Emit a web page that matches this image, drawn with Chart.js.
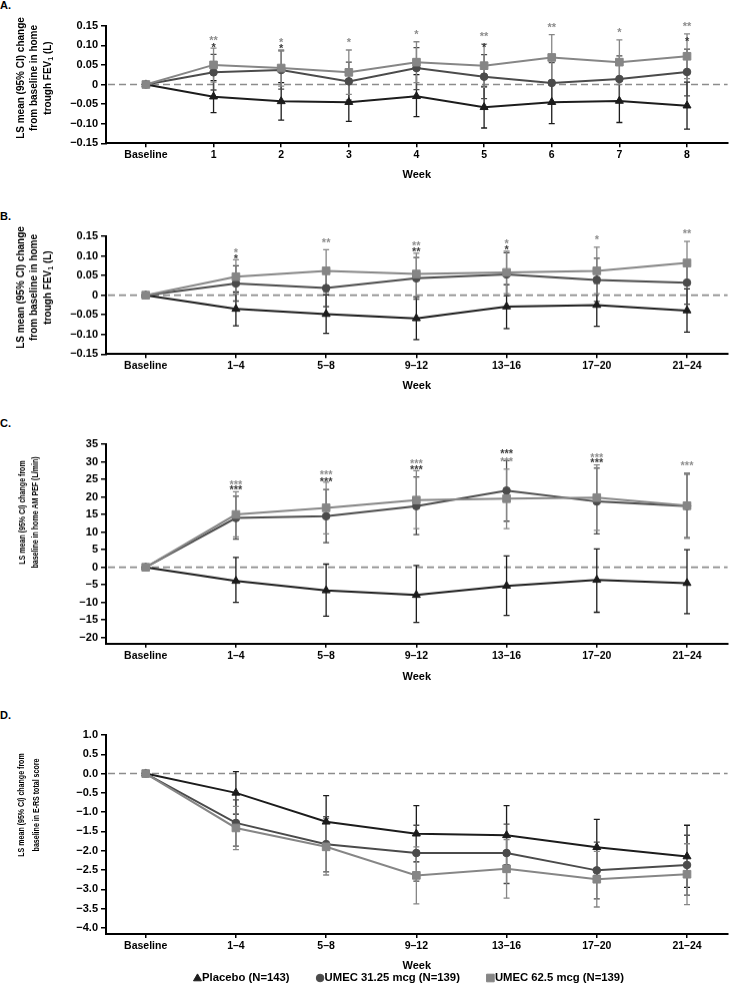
<!DOCTYPE html>
<html><head><meta charset="utf-8">
<script src="https://cdn.jsdelivr.net/npm/chart.js@4.4.1/dist/chart.umd.min.js"></script>
<style>
html,body{margin:0;padding:0;background:#fff;overflow:hidden;width:734px;height:991px;}
.wrap{position:absolute;left:0;width:734px;}
.lab{position:absolute;left:0;font:bold 11px "Liberation Sans",Arial,sans-serif;color:#000;line-height:13px;}
</style></head><body>
<div class="lab" style="top:-1px">A.</div>
<div class="lab" style="top:210px">B.</div>
<div class="lab" style="top:417px">C.</div>
<div class="lab" style="top:709px">D.</div>
<div class="wrap" style="top:0px;height:182px"><canvas id="cA"></canvas></div>
<div class="wrap" style="top:190px;height:201.6px"><canvas id="cB"></canvas></div>
<div class="wrap" style="top:400px;height:282.6px"><canvas id="cC"></canvas></div>
<div class="wrap" style="top:690px;height:301px"><canvas id="cD"></canvas></div>
<script>
// ---------- DATA ----------
const weeksA = ['Baseline','1','2','3','4','5','6','7','8'];
const weeksBCD = ['Baseline','1–4','5–8','9–12','13–16','17–20','21–24'];
const seriesNames = ['Placebo (N=143)','UMEC 31.25 mcg (N=139)','UMEC 62.5 mcg (N=139)'];
const yTicksFEV = [-0.15,-0.10,-0.05,0,0.05,0.10,0.15];
const yTicksPEF = [-20,-15,-10,-5,0,5,10,15,20,25,30,35];
const yTicksERS = [-4.0,-3.5,-3.0,-2.5,-2.0,-1.5,-1.0,-0.5,0.0,0.5,1.0];

// Panel A: trough FEV1 by week
const placeboA    = [0,-0.031,-0.043,-0.045,-0.030,-0.058,-0.045,-0.042,-0.054];
const placeboA_lo = [null,-0.072,-0.091,-0.094,-0.082,-0.111,-0.100,-0.097,-0.114];
const placeboA_hi = [null,0.010,0.005,0.004,0.025,-0.005,0.010,0.013,0.006];
const umec31A     = [0,0.031,0.037,0.008,0.042,0.020,0.004,0.014,0.032];
const umec31A_lo  = [null,-0.014,-0.012,-0.040,-0.013,-0.036,-0.048,-0.045,-0.029];
const umec31A_hi  = [null,0.077,0.086,0.057,0.094,0.076,0.056,0.073,0.090];
const umec62A     = [0,0.050,0.042,0.031,0.057,0.048,0.069,0.057,0.072];
const umec62A_lo  = [null,0.006,-0.004,-0.025,0.005,-0.007,0.011,0.000,0.015];
const umec62A_hi  = [null,0.093,0.088,0.088,0.109,0.103,0.127,0.114,0.129];
const starsA_31   = ['','*','*','','','*','','','*'];
const starsA_62   = ['','**','*','*','*','**','**','*','**'];

// Panel B: trough FEV1 by 4-week interval
const placeboB    = [0,-0.035,-0.048,-0.059,-0.029,-0.025,-0.039];
const placeboB_lo = [null,-0.078,-0.097,-0.113,-0.085,-0.079,-0.094];
const placeboB_hi = [null,0.008,0.001,-0.005,0.027,0.030,0.016];
const umec31B     = [0,0.030,0.018,0.043,0.053,0.039,0.032];
const umec31B_lo  = [null,-0.015,-0.029,-0.010,-0.002,-0.016,-0.023];
const umec31B_hi  = [null,0.075,0.065,0.096,0.108,0.094,0.087];
const umec62B     = [0,0.047,0.062,0.054,0.058,0.062,0.082];
const umec62B_lo  = [null,0.003,0.008,-0.003,0.004,0.004,0.028];
const umec62B_hi  = [null,0.090,0.116,0.107,0.112,0.122,0.137];
const starsB_31   = ['','*','','**','*','',''];
const starsB_62   = ['','*','**','**','*','*','**'];

// Panel C: AM PEF
const placeboC    = [0,-3.9,-6.6,-7.9,-5.3,-3.6,-4.5];
const placeboC_lo = [null,-10.0,-13.9,-15.7,-13.7,-12.8,-13.2];
const placeboC_hi = [null,2.8,0.9,0.5,3.2,5.2,5.0];
const umec31C     = [0,14.0,14.5,17.4,21.8,18.7,17.4];
const umec31C_lo  = [null,8.0,7.0,9.3,13.1,9.5,8.4];
const umec31C_hi  = [null,20.2,22.1,25.7,30.3,28.2,26.5];
const umec62C     = [0,15.0,16.9,19.1,19.5,19.8,17.5];
const umec62C_lo  = [null,8.6,9.5,11.0,11.0,10.5,8.2];
const umec62C_hi  = [null,21.5,24.2,27.5,27.9,29.1,26.8];
const starsC_31   = ['','***','***','***','***','***',''];
const starsC_62   = ['','***','***','***','***','***','***'];

// Panel D: E-RS total score
const placeboD    = [0,-0.50,-1.25,-1.56,-1.60,-1.91,-2.15];
const placeboD_lo = [null,-1.05,-1.93,-2.29,-2.37,-2.64,-2.95];
const placeboD_hi = [null,0.05,-0.57,-0.83,-0.83,-1.19,-1.34];
const umec31D     = [0,-1.28,-1.83,-2.06,-2.06,-2.51,-2.37];
const umec31D_lo  = [null,-1.88,-2.55,-2.79,-2.85,-3.25,-3.15];
const umec31D_hi  = [null,-0.68,-1.12,-1.34,-1.31,-1.78,-1.60];
const umec62D     = [0,-1.41,-1.90,-2.64,-2.47,-2.74,-2.61];
const umec62D_lo  = [null,-1.97,-2.63,-3.38,-3.23,-3.46,-3.40];
const umec62D_hi  = [null,-0.85,-1.17,-1.90,-1.71,-2.02,-1.82];

const titleA = ['LS mean (95% CI) change','from baseline in home','trough FEV{1} (L)'];
const titleC = ['LS mean (95% CI) change from','baseline in home AM PEF (L/min)'];
const titleD = ['LS mean (95% CI) change from','baseline in E-RS total score'];

// ---------- STYLE ----------
const FONT = '"Liberation Sans", Arial, Helvetica, sans-serif';
const COL = ['#1c1c1c','#4b4b4b','#868686'];
const STARCOL = [null,'#3a3a3a','#8c8c8c'];
const PSTYLE = ['triangle','circle','rect'];
const PRAD = [4.6,3.8,5.4];

function fmtFEV(v){ const r=Math.round(v*100)/100; if(r===0) return '0'; return (r<0?'\u2212':'')+Math.abs(r).toFixed(2); }
function fmtPEF(v){ const r=Math.round(v); return (r<0?'\u2212':'')+Math.abs(r); }
function fmtERS(v){ const r=Math.round(v*10)/10; return (r<0?'\u2212':'')+Math.abs(r).toFixed(1); }

function drawMarker(ctx, style, x, y, r, color){
  ctx.save(); ctx.fillStyle=color; ctx.strokeStyle=color; ctx.lineWidth=1;
  ctx.beginPath();
  if(style==='triangle'){
    ctx.moveTo(x, y-r); ctx.lineTo(x-r*0.866, y+r*0.5); ctx.lineTo(x+r*0.866, y+r*0.5); ctx.closePath();
  } else if(style==='circle'){
    ctx.arc(x,y,r,0,Math.PI*2);
  } else {
    const s=r*Math.SQRT1_2; ctx.rect(x-s,y-s,2*s,2*s);
  }
  ctx.fill(); ctx.stroke(); ctx.restore();
}

function drawRotLine(ctx, text, x, cy, size, hscale){
  const segs=[]; const re=/\{([^}]*)\}/g; let last=0, m;
  while((m=re.exec(text))){ if(m.index>last) segs.push({t:text.slice(last,m.index)}); segs.push({t:m[1],sub:true}); last=re.lastIndex; }
  if(last<text.length) segs.push({t:text.slice(last)});
  const big=`bold ${size}px ${FONT}`, small=`bold ${Math.round(size*0.7)}px ${FONT}`;
  ctx.save(); ctx.translate(x,cy); ctx.rotate(-Math.PI/2); ctx.scale(hscale||1,1);
  let total=0; segs.forEach(s=>{ctx.font=s.sub?small:big; total+=ctx.measureText(s.t).width;});
  let cx=-total/2; ctx.textBaseline='middle'; ctx.textAlign='left'; ctx.fillStyle='#000';
  segs.forEach(s=>{ctx.font=s.sub?small:big; ctx.fillText(s.t,cx,s.sub?size*0.32:0); cx+=ctx.measureText(s.t).width;});
  ctx.restore();
}

function makeDecor(cfg){
  return {
    id:'decor',
    beforeDatasetsDraw(chart){
      const {ctx, chartArea, scales:{x,y}} = chart;
      ctx.save();
      ctx.strokeStyle='#8c8c8c'; ctx.lineWidth=1.6; ctx.setLineDash([7,4]);
      const y0=y.getPixelForValue(0);
      ctx.beginPath(); ctx.moveTo(chartArea.left+2,y0); ctx.lineTo(chartArea.right,y0); ctx.stroke();
      ctx.restore();
      cfg.series.forEach((s,si)=>{
        ctx.save(); ctx.strokeStyle=COL[si]; ctx.lineWidth=1.3;
        s.lo.forEach((lo,j)=>{
          if(lo==null) return;
          const px=x.getPixelForValue(j), pl=y.getPixelForValue(lo), ph=y.getPixelForValue(s.hi[j]);
          ctx.beginPath();
          ctx.moveTo(px,pl); ctx.lineTo(px,ph);
          ctx.moveTo(px-3,pl); ctx.lineTo(px+3,pl);
          ctx.moveTo(px-3,ph); ctx.lineTo(px+3,ph);
          ctx.stroke();
        });
        ctx.restore();
      });
    },
    afterDatasetsDraw(chart){
      const {ctx, scales:{x,y}} = chart;
      const fs=11;
      cfg.cats.forEach((c,j)=>{
        const rows=[];
        cfg.series.forEach((s,si)=>{
          if(s.stars && s.stars[j]) rows.push({y:y.getPixelForValue(s.hi[j])-10, t:s.stars[j], col:STARCOL[si]});
        });
        rows.sort((a,b)=>a.y-b.y);
        for(let k=1;k<rows.length;k++){ if(rows[k].y-rows[k-1].y<5.5) rows[k].y=rows[k-1].y+5.5; }
        const px=x.getPixelForValue(j);
        rows.forEach(r=>{
          ctx.save(); ctx.font=`bold ${fs}px ${FONT}`; ctx.fillStyle=r.col; ctx.textAlign='center'; ctx.textBaseline='alphabetic';
          ctx.fillText(r.t, px, r.y+fs*0.57); ctx.restore();
        });
      });
    },
    afterDraw(chart){
      const ctx=chart.ctx;
      cfg.title.forEach((t,i)=>drawRotLine(ctx,t,cfg.titleX[i],cfg.titleY-cfg.top,cfg.titleSize,cfg.titleScale));
      if(cfg.legend){
        const ly=cfg.legendY-cfg.top; let lx=cfg.legendX;
        ctx.save(); ctx.font=`bold 11.3px ${FONT}`; ctx.textBaseline='middle'; ctx.fillStyle='#000';
        seriesNames.forEach((n,i)=>{
          drawMarker(ctx,PSTYLE[i],lx+3.5,ly+(i===0?0.5:0),PRAD[i],COL[i]);
          ctx.fillStyle='#000'; ctx.fillText(n,lx+8,ly);
          lx += 8 + ctx.measureText(n).width + 27;
        });
        ctx.restore();
      }
    }
  };
}

function makePanel(id,cfg){
  const datasets=cfg.series.map((s,si)=>({
    label:seriesNames[si],
    data:s.data.map((v,i)=>({x:i,y:v})),
    borderColor:COL[si], backgroundColor:COL[si],
    pointBackgroundColor:COL[si], pointBorderColor:COL[si],
    pointStyle:PSTYLE[si], pointRadius:PRAD[si], pointBorderWidth:1,
    borderWidth:2, tension:0, order:2-si
  }));
  const tickFont={family:FONT,size:11,weight:'bold'};
  return new Chart(document.getElementById(id),{
    type:'line',
    data:{datasets},
    options:{
      responsive:true, maintainAspectRatio:false, animation:false, devicePixelRatio:1,
      layout:{padding:{top:cfg.padTop,bottom:cfg.padBottom||0,left:0,right:0}},
      plugins:{legend:{display:false},tooltip:{enabled:false}},
      events:[],
      scales:{
        x:{type:'linear',min:cfg.xmin,max:cfg.xmax,
          afterBuildTicks:sc=>{sc.ticks=cfg.cats.map((_,i)=>({value:i}));},
          afterFit:sc=>{sc.height=cfg.xH;},
          ticks:{callback:v=>cfg.cats[v],font:{family:FONT,size:10.5,weight:'bold'},color:'#000',padding:2,maxRotation:0,autoSkip:false},
          grid:{display:true,drawOnChartArea:false,drawTicks:true,tickLength:4,color:'#000',lineWidth:1.5},
          border:{display:true,color:'#000',width:2},
          title:{display:true,text:'Week',font:{family:FONT,size:11,weight:'bold'},color:'#000',padding:{top:0,bottom:0}}
        },
        y:{min:cfg.ymin,max:cfg.ymax,
          afterBuildTicks:sc=>{sc.ticks=cfg.yticks.map(v=>({value:v}));},
          afterFit:sc=>{sc.width=106;},
          ticks:{callback:cfg.fmt,font:tickFont,color:'#000',padding:3,autoSkip:false},
          grid:{display:true,drawOnChartArea:false,drawTicks:true,tickLength:5,color:'#000',lineWidth:1.5},
          border:{display:true,color:'#000',width:2}
        }
      }
    },
    plugins:[makeDecor(cfg)]
  });
}

makePanel('cA',{top:0,padTop:25.7,xH:38.7,ymin:-0.15,ymax:0.15,xmin:-0.59,xmax:8.6,cats:weeksA,yticks:yTicksFEV,fmt:fmtFEV,
  title:titleA,titleX:[21.5,34.5,48],titleY:78,titleSize:10,titleScale:1,
  series:[{data:placeboA,lo:placeboA_lo,hi:placeboA_hi},{data:umec31A,lo:umec31A_lo,hi:umec31A_hi,stars:starsA_31},{data:umec62A,lo:umec62A_lo,hi:umec62A_hi,stars:starsA_62}]});
makePanel('cB',{top:190,padTop:46,xH:38.3,ymin:-0.15,ymax:0.15,xmin:-0.44,xmax:6.45,cats:weeksBCD,yticks:yTicksFEV,fmt:fmtFEV,
  title:titleA,titleX:[21.5,34.5,48],titleY:287,titleSize:10,titleScale:1,
  series:[{data:placeboB,lo:placeboB_lo,hi:placeboB_hi},{data:umec31B,lo:umec31B_lo,hi:umec31B_hi,stars:starsB_31},{data:umec62B,lo:umec62B_lo,hi:umec62B_hi,stars:starsB_62}]});
makePanel('cC',{top:400,padTop:44,xH:39.9,ymin:-21.7,ymax:35,xmin:-0.44,xmax:6.45,cats:weeksBCD,yticks:yTicksPEF,fmt:fmtPEF,
  title:titleC,titleX:[22.5,36],titleY:512,titleSize:8.6,titleScale:0.82,
  series:[{data:placeboC,lo:placeboC_lo,hi:placeboC_hi},{data:umec31C,lo:umec31C_lo,hi:umec31C_hi,stars:starsC_31},{data:umec62C,lo:umec62C_lo,hi:umec62C_hi,stars:starsC_62}]});
makePanel('cD',{top:690,padTop:45,padBottom:18.4,xH:38.6,ymin:-4.16,ymax:1,xmin:-0.44,xmax:6.45,cats:weeksBCD,yticks:yTicksERS,fmt:fmtERS,
  title:titleD,titleX:[22,37],titleY:805,titleSize:8.6,titleScale:0.82,legend:true,legendY:978,legendX:194,
  series:[{data:placeboD,lo:placeboD_lo,hi:placeboD_hi},{data:umec31D,lo:umec31D_lo,hi:umec31D_hi},{data:umec62D,lo:umec62D_lo,hi:umec62D_hi}]});
</script>
</body></html>
